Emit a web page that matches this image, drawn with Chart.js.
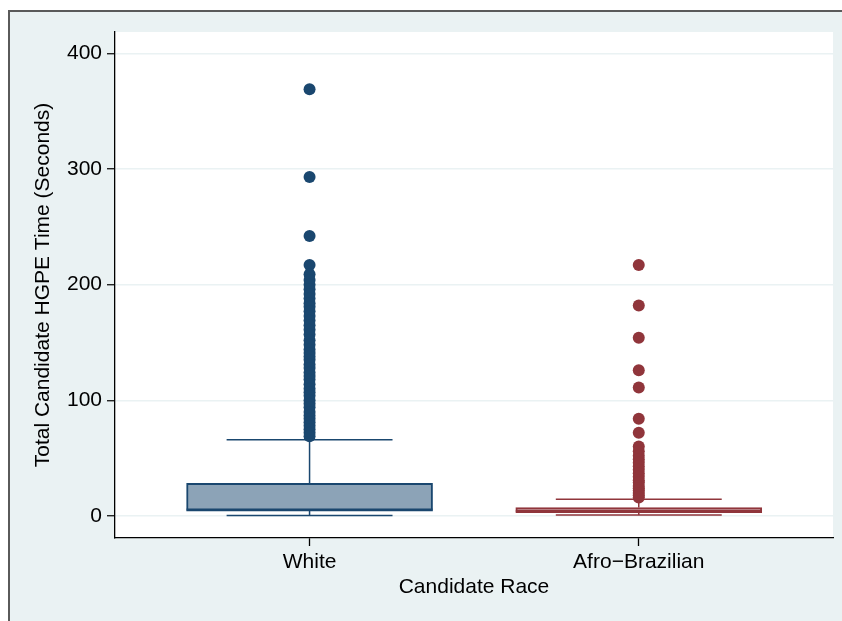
<!DOCTYPE html>
<html lang="en">
<head>
  <meta charset="UTF-8">
  <title>Total Candidate HGPE Time by Candidate Race</title>
  <script src="https://cdn.jsdelivr.net/npm/chart.js"></script>
  <style>
    body {
      margin: 0;
      background: #fff;
      overflow: hidden;
      font-family: 'Liberation Sans', Arial, sans-serif;
    }
    #frame {
      position: absolute;
      left: 8px;
      top: 10px;
      width: 900px;
      height: 700px;
      background: #eaf2f3;
      border-left: 2px solid #5a5a5a;
      border-top: 2px solid #5a5a5a;
    }
    #boxChart {
      position: absolute;
      left: 0;
      top: 0;
    }
  </style>
</head>
<body>
  <div id="frame"></div>
  <canvas id="boxChart" width="842" height="621"></canvas>

<script>
  // categories and box plot summaries
  const categories = ['White', 'Afro\u2212Brazilian'];
  const positions = [0, 1];
  const lowerWhisker = [0.4, 0.9];
  const q1 = [4.3, 2.9];
  const median = [5.6, 4.4];
  const q3 = [28.3, 7.3];
  const upperWhisker = [66, 14.5];

  // outside values
  const whiteOutliers = [369, 293, 242, 217, 209, 204, 200, 196, 192, 188, 184, 181, 177, 173,
    169, 165, 161, 157, 152, 148, 144, 141, 138, 135, 131, 128, 124, 121, 118, 114, 110, 107,
    104, 100, 97, 94, 90, 87, 84, 81, 78, 75, 72, 69];
  const afroOutliers = [217, 182, 154, 126, 111, 84, 72, 60, 56, 52, 49, 46, 43, 40, 37, 34,
    31, 29, 26, 24, 22, 20, 18, 16];

  const yTicks = [0, 100, 200, 300, 400];

  const lineColors = ['#1a476f', '#90353b'];
  const fillColors = ['#8ca3b7', '#c7999d'];
  const boxHalf = 0.3735;
  const capHalf = 0.252;

  // whisker segments, separated by gaps
  function whiskerPoints(i) {
    const x = positions[i];
    return [
      {x: x - capHalf, y: upperWhisker[i]}, {x: x + capHalf, y: upperWhisker[i]}, {x: x, y: null},
      {x: x, y: upperWhisker[i]}, {x: x, y: q3[i]}, {x: x, y: null},
      {x: x, y: q1[i]}, {x: x, y: lowerWhisker[i]}, {x: x, y: null},
      {x: x - capHalf, y: lowerWhisker[i]}, {x: x + capHalf, y: lowerWhisker[i]}
    ];
  }

  const plotBackground = {
    id: 'plotBackground',
    beforeDraw(chart) {
      const {ctx, chartArea: a} = chart;
      ctx.save();
      ctx.fillStyle = '#ffffff';
      ctx.fillRect(a.left, a.top, a.right - a.left, a.bottom - a.top);
      ctx.restore();
    }
  };

  const font = {family: "'Liberation Sans', Arial, sans-serif", size: 21};

  const ctx = document.getElementById('boxChart').getContext('2d');
  new Chart(ctx, {
    type: 'scatter',
    data: {
      datasets: [
        {
          type: 'scatter',
          data: whiteOutliers.map(v => ({x: positions[0], y: v})),
          backgroundColor: lineColors[0],
          pointRadius: 6,
          borderWidth: 0
        },
        {
          type: 'scatter',
          data: afroOutliers.map(v => ({x: positions[1], y: v})),
          backgroundColor: lineColors[1],
          pointRadius: 6,
          borderWidth: 0
        },
        {
          type: 'line',
          data: [
            {x: positions[0] - boxHalf, y: median[0]}, {x: positions[0] + boxHalf, y: median[0]}, {x: 0.5, y: null},
            {x: positions[1] - boxHalf, y: median[1]}, {x: positions[1] + boxHalf, y: median[1]}
          ],
          segment: {borderColor: c => lineColors[c.p0.parsed.x < 0.5 ? 0 : 1]},
          borderColor: lineColors[0],
          borderWidth: 2,
          pointRadius: 0,
          spanGaps: false
        },
        {
          type: 'bar',
          data: positions.map((x, i) => ({x: x, y: [q1[i], q3[i]]})),
          backgroundColor: fillColors,
          borderColor: lineColors,
          borderWidth: 2,
          borderSkipped: false,
          barThickness: 246
        },
        {
          type: 'line',
          data: whiskerPoints(0),
          borderColor: lineColors[0],
          borderWidth: 1.5,
          pointRadius: 0,
          spanGaps: false
        },
        {
          type: 'line',
          data: whiskerPoints(1),
          borderColor: lineColors[1],
          borderWidth: 1.5,
          pointRadius: 0,
          spanGaps: false
        }
      ]
    },
    options: {
      responsive: false,
      animation: false,
      layout: {padding: {left: 0, top: 32, right: 9, bottom: 0}},
      plugins: {
        legend: {display: false},
        tooltip: {enabled: false}
      },
      scales: {
        x: {
          type: 'linear',
          min: -0.591,
          max: 1.59,
          offset: false,
          afterBuildTicks: s => { s.ticks = positions.map(v => ({value: v})); },
          afterFit: s => { s.height = 83; },
          grid: {offset: false, drawOnChartArea: false, tickLength: 8, tickColor: '#000', tickWidth: 1.3},
          border: {color: '#000', width: 1.3},
          ticks: {
            font: font,
            color: '#000',
            padding: 4,
            autoSkip: false,
            maxRotation: 0,
            callback: (v, i) => categories[i]
          },
          title: {display: true, text: 'Candidate Race', font: font, color: '#000', padding: {top: 0, bottom: 21}}
        },
        y: {
          min: -19,
          max: 418.4,
          afterBuildTicks: s => { s.ticks = yTicks.map(v => ({value: v})); },
          afterFit: s => { s.width = 115; },
          grid: {color: '#eaf2f3', lineWidth: 1.5, tickLength: 8, tickColor: '#000', tickWidth: 1.2},
          border: {color: '#000', width: 1.3},
          ticks: {font: font, color: '#000', padding: 5},
          title: {display: true, text: 'Total Candidate HGPE Time (Seconds)', font: font, color: '#000', padding: {top: 31, bottom: 0}}
        }
      }
    },
    plugins: [plotBackground]
  });
</script>
</body>
</html>
